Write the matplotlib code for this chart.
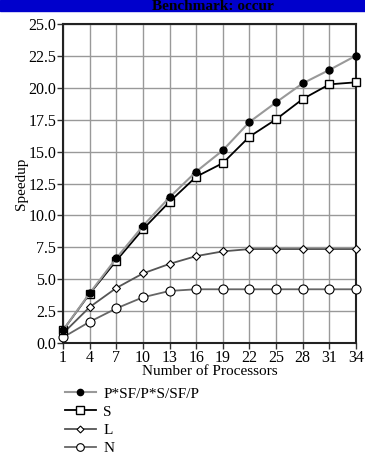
import matplotlib
matplotlib.use("Agg")
import matplotlib.pyplot as plt
from matplotlib.lines import Line2D
from matplotlib.patches import Rectangle

plt.rcParams['font.family'] = ['Liberation Serif', 'DejaVu Serif']

processors = [1, 4, 7, 10, 13, 16, 19, 22, 25, 28, 31, 34]
p_sf = [1.0, 3.9, 6.64, 9.17, 11.42, 13.43, 15.1, 17.32, 18.86, 20.35, 21.4, 22.52]
s_vals = [1.0, 3.85, 6.45, 8.91, 11.07, 13.03, 14.1, 16.17, 17.53, 19.12, 20.27, 20.43]
l_vals = [0.75, 2.81, 4.31, 5.45, 6.2, 6.81, 7.18, 7.36, 7.36, 7.36, 7.36, 7.36]
n_vals = [0.44, 1.66, 2.71, 3.58, 4.08, 4.21, 4.21, 4.21, 4.21, 4.21, 4.21, 4.21]
labels = ["P*SF/P*S/SF/P", "S", "L", "N"]
yticks = [0.0, 2.5, 5.0, 7.5, 10.0, 12.5, 15.0, 17.5, 20.0, 22.5, 25.0]

fig = plt.figure(figsize=(3.65, 4.54), dpi=100)
fig.patches.append(Rectangle((0, 1 - 11/454), 1, 11/454, transform=fig.transFigure,
                             color='#0000cc', zorder=0))
fig.text(213/365, 1 - 7/454, "Benchmark: occur", ha='center', va='center',
         fontsize=11, fontweight='bold', color='black')

ax = fig.add_axes([63/365, 1 - 343/454, 293/365, 319/454])

ax.plot(processors, p_sf, color='#999999', lw=1.5, marker='o', ms=5,
        mfc='black', mec='black', zorder=5, clip_on=False)
ax.plot(processors, s_vals, color='black', lw=1.3, marker='s', ms=6,
        mfc='white', mec='black', mew=1, zorder=4, clip_on=False)
ax.plot(processors, l_vals, color='#555555', lw=1.3, marker='D', ms=4,
        mfc='white', mec='black', mew=0.8, zorder=3, clip_on=False)
ax.plot(processors, n_vals, color='#666666', lw=1.3, marker='o', ms=6.5,
        mfc='white', mec='black', mew=0.8, zorder=3, clip_on=False)

ax.set_xlim(1, 34)
ax.set_ylim(0, 25)
ax.set_xticks(processors)
ax.set_yticks(yticks)
ax.set_yticklabels([f"{v:.1f}" for v in yticks])
ax.grid(True, color='#999999', lw=1)
ax.set_axisbelow(True)
for s in ax.spines.values():
    s.set_linewidth(1.5)
    s.set_color('#222222')
ax.tick_params(labelsize=11.5, length=4, width=1, color='#333333', pad=1)
ax.set_xlabel("Number of Processors", fontsize=11, labelpad=-1)
ax.set_ylabel("Speedup", fontsize=11, labelpad=0)

handles = [
    Line2D([], [], color='#999999', lw=1.5, marker='o', ms=4.5, mfc='black', mec='black'),
    Line2D([], [], color='black', lw=1.3, marker='s', ms=5.5, mfc='white', mec='black'),
    Line2D([], [], color='#555555', lw=1.3, marker='D', ms=3.5, mfc='white', mec='black', mew=0.8),
    Line2D([], [], color='#666666', lw=1.3, marker='o', ms=5.5, mfc='white', mec='black', mew=0.8),
]
fig.legend(handles, labels, loc='upper left', bbox_to_anchor=(65/365, 1 - 387/454),
           frameon=False, fontsize=11, handlelength=2.0, handletextpad=0.5,
           labelspacing=0.29, borderaxespad=0, borderpad=0)

fig.savefig("out.png", dpi=100)
